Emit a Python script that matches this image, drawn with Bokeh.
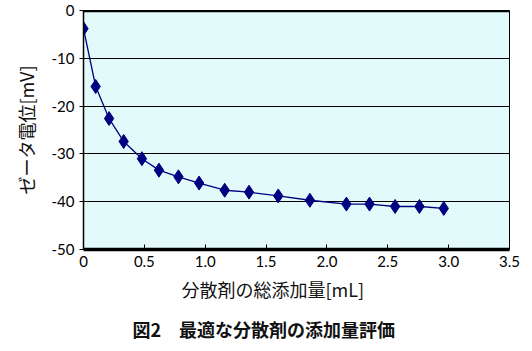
from bokeh.plotting import figure
from bokeh.models import Span, Title, FixedTicker
from bokeh.embed import file_html
from bokeh.resources import INLINE

# data
dose_ml = [0.0, 0.1, 0.21, 0.33, 0.48, 0.62, 0.78, 0.95, 1.16, 1.36, 1.6, 1.86, 2.16, 2.35, 2.56, 2.76, 2.96]
zeta_mv = [-3.8, -15.9, -22.6, -27.4, -31.0, -33.4, -34.8, -36.1, -37.6, -38.0, -38.8, -39.7, -40.5, -40.5, -41.0, -41.0, -41.4]
x_ticks = [0, 0.5, 1.0, 1.5, 2.0, 2.5, 3.0, 3.5]
x_tick_labels = ["0", "0.5", "1.0", "1.5", "2.0", "2.5", "3.0", "3.5"]
y_ticks = [0, -10, -20, -30, -40, -50]
y_tick_labels = ["0", "-10", "-20", "-30", "-40", "-50"]
x_title = "分散剤の総添加量[mL]"
y_title = "ゼータ電位[mV]"
caption = "図2\u3000最適な分散剤の添加量評価"

JP = "Noto Sans CJK JP"
NUM = "Lato"

p = figure(width=532, height=351, output_backend="svg", toolbar_location=None,
           x_range=(0, 3.5), y_range=(-50, 0),
           min_border_left=83, min_border_right=23, min_border_top=10, min_border_bottom=102)
p.border_fill_color = "white"
p.background_fill_color = "#e3fafa"
p.outline_line_color = "black"
p.outline_line_width = 1

# grid
p.xgrid.visible = False
p.ygrid.grid_line_color = "black"
p.ygrid.grid_line_width = 1.2
p.ygrid.grid_line_alpha = 1.0

# axes
p.xaxis.ticker = FixedTicker(ticks=x_ticks)
p.xaxis.major_label_overrides = {t: l for t, l in zip(x_ticks, x_tick_labels)}
p.yaxis.ticker = FixedTicker(ticks=y_ticks)
p.yaxis.major_label_overrides = {t: l for t, l in zip(y_ticks, y_tick_labels)}
for ax in (p.xaxis[0], p.yaxis[0]):
    ax.major_label_text_font = NUM
    ax.major_label_text_font_size = "15px"
    ax.major_label_text_color = "black"
    ax.minor_tick_line_color = None
    ax.major_tick_line_color = "black"
    ax.axis_line_color = "black"

p.xaxis.axis_line_width = 3.5
p.xaxis.major_tick_in = 5
p.xaxis.major_tick_out = 0
p.xaxis.major_label_standoff = 6

p.yaxis.axis_line_width = 1.5
p.yaxis.major_tick_in = 0
p.yaxis.major_tick_out = 4
p.yaxis.major_label_standoff = 5
p.yaxis.axis_label = y_title
p.yaxis.axis_label_standoff = 10
p.yaxis.axis_label_text_font = JP
p.yaxis.axis_label_text_font_style = "normal"
p.yaxis.axis_label_text_font_size = "18px"
p.yaxis.axis_label_text_color = "#111111"

# thick top line at zero
p.add_layout(Span(location=0, dimension="width", line_color="black", line_width=3.5))

# data
p.line(dose_ml, zeta_mv, line_color="#000080", line_width=1.3)
p.scatter(dose_ml, zeta_mv, marker="diamond", size=14, fill_color="#000080", line_color="#000080")

# x-axis title and caption
p.add_layout(Title(text=x_title, align="left", offset=98, text_font=JP, text_font_size="18px",
                   text_font_style="normal", text_color="#111111", standoff=9), "below")
p.add_layout(Title(text=caption, align="left", offset=49, text_font=JP, text_font_size="18px",
                   text_font_style="bold", text_color="#111111", standoff=15), "below")

open("out.html", "w").write(file_html(p, INLINE))
